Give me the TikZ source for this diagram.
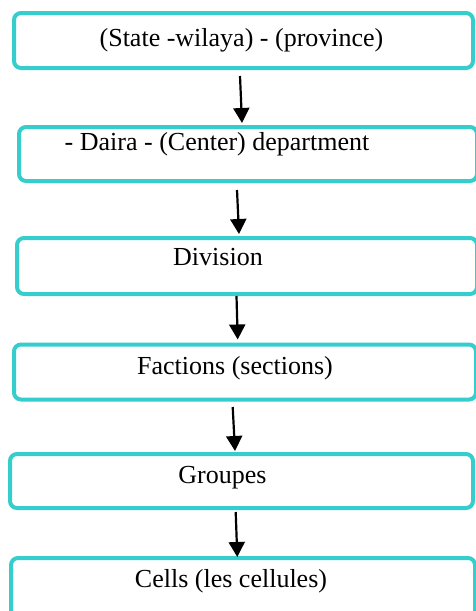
\documentclass[tikz,border=0pt]{standalone}
\usepackage{fontspec}
\setmainfont{Liberation Serif}
\usetikzlibrary{arrows.meta}
\definecolor{boxcol}{RGB}{54,205,205}

\begin{document}
\begin{tikzpicture}[x=1pt, y=-1pt,
	box/.style={shape=rectangle, rounded corners=7pt, draw=boxcol, line width=4pt, inner sep=0pt},
	lbl/.style={font=\fontsize{26}{30}\selectfont, inner sep=0pt},
	arr/.style={-{Triangle[width=16pt,length=15pt]}, line width=2.2pt}]
	
	\useasboundingbox (0, 0) rectangle (476, 611);
	\clip (0, 0) rectangle (476, 611);
	
	\node[box, minimum width=459pt, minimum height=55pt] (wilaya) at (243.5, 40.5) {};
	\node[box, minimum width=458pt, minimum height=54pt] (daira) at (248, 154) {};
	\node[box, minimum width=460pt, minimum height=56pt] (division) at (247, 266) {};
	\node[box, minimum width=462pt, minimum height=55pt] (factions) at (245, 372) {};
	\node[box, minimum width=463pt, minimum height=54pt] (groupes) at (241.5, 481) {};
	\node[box, minimum width=464pt, minimum height=60pt] (cells) at (243, 588) {};
	
	\node[lbl] (wilayatxt) at (241.5, 40)    {(State -wilaya) - (province)};
	\node[lbl] (dairatxt) at (217, 144)      {- Daira - (Center) department};
	\node[lbl] (divisiontxt) at (218, 257)   {Division};
	\node[lbl] (factionstxt) at (235, 368)   {Factions (sections)};
	\node[lbl] (groupestxt) at (222.5, 478)  {Groupes};
	\node[lbl] (cellstxt) at (231, 581)      {Cells (les cellules)};
	
	\path[arr] ([xshift=-3.5pt, yshift=-6pt]wilaya.south) edge ([xshift=-6pt, yshift=2pt]daira.north);
	\path[arr] ([xshift=-11pt, yshift=-7pt]daira.south) edge ([xshift=-8pt, yshift=2pt]division.north);
	\path[arr] ([xshift=-10.5pt]division.south) edge ([xshift=-7.3pt, yshift=3pt]factions.north);
	\path[arr] ([xshift=-12.3pt, yshift=-5.5pt]factions.south) edge ([xshift=-6.5pt, yshift=1pt]groupes.north);
	\path[arr] ([xshift=-5.8pt, yshift=-2pt]groupes.south) edge ([xshift=-5.7pt, yshift=-1pt]cells.north);
	
\end{tikzpicture}
\end{document}
